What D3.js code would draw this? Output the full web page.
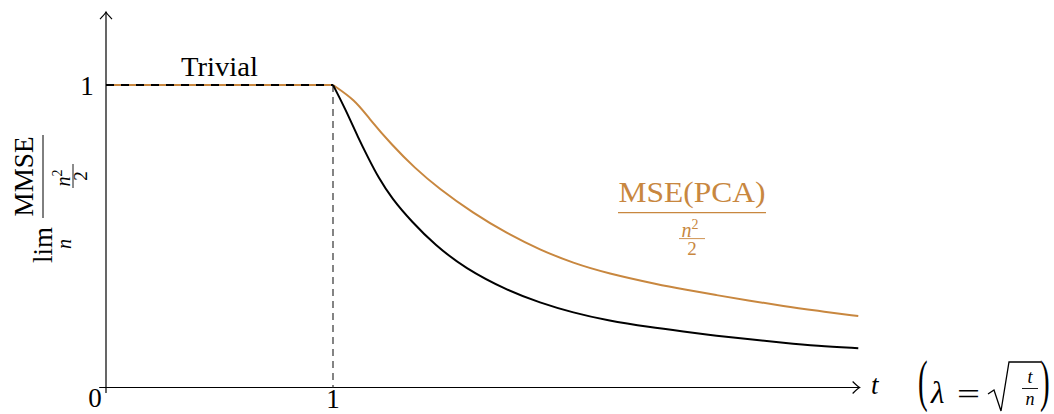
<!DOCTYPE html>
<html><head><meta charset="utf-8">
<script src="https://cdn.jsdelivr.net/npm/d3@7"></script>
<style>body{margin:0;background:#fff} svg{display:block} text{font-family:"Liberation Serif",serif;}</style>
</head><body><svg id="c" width="1054" height="414"></svg>
<script>
// ---- data ----
const trivialT = [0, 1];
const trivialV = [1, 1];
const mmseT = [1.0, 1.053, 1.112, 1.156, 1.200, 1.259, 1.347, 1.449, 1.582, 1.765, 1.912, 2.059, 2.206, 2.397, 2.543, 2.690, 2.837, 2.984, 3.131, 3.314];
const mmseV = [1.0, 0.923, 0.824, 0.758, 0.694, 0.625, 0.548, 0.471, 0.394, 0.322, 0.280, 0.247, 0.222, 0.199, 0.185, 0.171, 0.159, 0.148, 0.138, 0.130];
const pcaT = [1.0, 1.097, 1.156, 1.259, 1.361, 1.464, 1.618, 1.765, 1.912, 2.059, 2.206, 2.441, 2.543, 2.690, 2.837, 2.984, 3.131, 3.314];
const pcaV = [1.0, 0.950, 0.892, 0.802, 0.725, 0.659, 0.576, 0.510, 0.455, 0.411, 0.378, 0.339, 0.325, 0.305, 0.287, 0.269, 0.254, 0.236];
const xTickVals = [1];
const xTickLabels = ["1"];
const yTickVals = [1];
const yTickLabels = ["1"];
const originLabel = "0";
const xAxisRange = [-0.03, 3.32];
const yAxisRange = [-0.018, 1.241];

const ORANGE = "#c8873f";
const svg = d3.select("#c");
const x = d3.scaleLinear().domain([0, 1]).range([106, 333]);
const y = d3.scaleLinear().domain([0, 1]).range([387.5, 85]);

// axes
svg.append("line").attr("x1", x(xAxisRange[0])).attr("x2", x(xAxisRange[1]))
  .attr("y1", y(0)).attr("y2", y(0)).attr("stroke", "#000").attr("stroke-width", 1.2);
svg.append("line").attr("x1", x(0)).attr("x2", x(0))
  .attr("y1", y(yAxisRange[0])).attr("y2", y(yAxisRange[1])).attr("stroke", "#000").attr("stroke-width", 1.2);
// arrow heads
const ax = x(xAxisRange[1]), ay = y(0);
svg.append("path").attr("d", `M${ax-7},${ay-6} Q${ax-2},${ay-1} ${ax},${ay} Q${ax-2},${ay+1} ${ax-7},${ay+6}`)
  .attr("fill", "none").attr("stroke", "#000").attr("stroke-width", 1.2);
const bx = x(0), by = y(yAxisRange[1]);
svg.append("path").attr("d", `M${bx-6},${by+7} Q${bx-1},${by+2} ${bx},${by} Q${bx+1},${by+2} ${bx+6},${by+7}`)
  .attr("fill", "none").attr("stroke", "#000").attr("stroke-width", 1.2);

// vertical dashed guide at t=1
svg.append("line").attr("x1", x(1)).attr("x2", x(1)).attr("y1", y(1)).attr("y2", y(0))
  .attr("stroke", "#333").attr("stroke-width", 1.2).attr("stroke-dasharray", "7,5");

const smooth = d3.line().x(d => x(d[0])).y(d => y(d[1])).curve(d3.curveBasis);
const straight = d3.line().x(d => x(d[0])).y(d => y(d[1]));
const flat = trivialT.map((t, i) => [t, trivialV[i]]);
// PCA: flat part then decay
svg.append("path").datum(flat).attr("d", straight)
  .attr("fill", "none").attr("stroke", ORANGE).attr("stroke-width", 2);
svg.append("path").datum(pcaT.map((t, i) => [t, pcaV[i]])).attr("d", smooth)
  .attr("fill", "none").attr("stroke", ORANGE).attr("stroke-width", 2);
// MMSE
svg.append("path").datum(mmseT.map((t, i) => [t, mmseV[i]])).attr("d", smooth)
  .attr("fill", "none").attr("stroke", "#000").attr("stroke-width", 2);
// Trivial (dashed)
svg.append("path").datum(flat).attr("d", straight)
  .attr("fill", "none").attr("stroke", "#000").attr("stroke-width", 2).attr("stroke-dasharray", "8,7");

// tick labels
svg.selectAll(".xt").data(xTickVals).join("text").attr("x", d => x(d)).attr("y", 408)
  .attr("text-anchor", "middle").attr("font-size", 27).text((d, i) => xTickLabels[i]);
svg.selectAll(".yt").data(yTickVals).join("text").attr("x", 87).attr("y", d => y(d) + 10)
  .attr("text-anchor", "middle").attr("font-size", 27).text((d, i) => yTickLabels[i]);
svg.append("text").attr("x", 95).attr("y", 407).attr("text-anchor", "middle").attr("font-size", 27).text(originLabel);

// Trivial label
svg.append("text").attr("x", 181).attr("y", 76).attr("font-size", 27)
  .attr("textLength", 77).attr("lengthAdjust", "spacingAndGlyphs").text("Trivial");

// y label (rotated)
const gl = svg.append("g").attr("transform", "translate(42,200) rotate(-90)");
gl.append("text").attr("x", -45).attr("y", 10).attr("text-anchor", "middle").attr("font-size", 27).text("lim");
gl.append("text").attr("x", -44).attr("y", 29).attr("text-anchor", "middle").attr("font-size", 20).attr("font-style", "italic").text("n");
gl.append("line").attr("x1", -18).attr("x2", 65).attr("y1", 1).attr("y2", 1).attr("stroke", "#000").attr("stroke-width", 1);
gl.append("text").attr("x", 23.5).attr("y", -9).attr("text-anchor", "middle").attr("font-size", 28)
  .attr("textLength", 80).attr("lengthAdjust", "spacingAndGlyphs").text("MMSE");
const nn = gl.append("text").attr("x", 22).attr("y", 28).attr("text-anchor", "middle").attr("font-size", 20).attr("font-style", "italic");
nn.append("tspan").text("n");
nn.append("tspan").attr("dy", -8).attr("font-size", 14).attr("font-style", "normal").text("2");
gl.append("line").attr("x1", 12).attr("x2", 36).attr("y1", 31).attr("y2", 31).attr("stroke", "#000").attr("stroke-width", 0.9);
gl.append("text").attr("x", 24).attr("y", 45).attr("text-anchor", "middle").attr("font-size", 19).text("2");

// PCA label
const gp = svg.append("g").attr("fill", ORANGE);
gp.append("text").attr("x", 692).attr("y", 202).attr("text-anchor", "middle").attr("font-size", 29)
  .attr("textLength", 147).attr("lengthAdjust", "spacingAndGlyphs").text("MSE(PCA)");
gp.append("line").attr("x1", 618).attr("x2", 766).attr("y1", 212.7).attr("y2", 212.7).attr("stroke", ORANGE).attr("stroke-width", 1.2);
const pn = gp.append("text").attr("x", 690).attr("y", 237).attr("text-anchor", "middle").attr("font-size", 20).attr("font-style", "italic");
pn.append("tspan").text("n");
pn.append("tspan").attr("dy", -8).attr("font-size", 14).attr("font-style", "normal").text("2");
gp.append("line").attr("x1", 679).attr("x2", 705).attr("y1", 238.6).attr("y2", 238.6).attr("stroke", ORANGE).attr("stroke-width", 0.9);
gp.append("text").attr("x", 692).attr("y", 255).attr("text-anchor", "middle").attr("font-size", 19).text("2");

// x-axis variable + lambda note
svg.append("text").attr("x", 871).attr("y", 394).attr("font-size", 27).attr("font-style", "italic").text("t");
svg.append("text").attr("transform", "translate(918,400) scale(0.5,1)").attr("font-size", 58).text("(");
svg.append("text").attr("x", 931).attr("y", 403).attr("font-size", 31).attr("font-style", "italic").text("λ");
svg.append("text").attr("x", 957).attr("y", 404).attr("font-size", 30)
  .attr("textLength", 23).attr("lengthAdjust", "spacingAndGlyphs").text("=");
svg.append("path").attr("d", "M988,394 L994,390 L1001,411 L1009,362 L1041,362")
  .attr("fill", "none").attr("stroke", "#000").attr("stroke-width", 1.3);
svg.append("text").attr("x", 1030).attr("y", 383).attr("text-anchor", "middle").attr("font-size", 18).attr("font-style", "italic").text("t");
svg.append("line").attr("x1", 1022).attr("x2", 1038).attr("y1", 388.5).attr("y2", 388.5).attr("stroke", "#000").attr("stroke-width", 0.9);
svg.append("text").attr("x", 1030).attr("y", 405).attr("text-anchor", "middle").attr("font-size", 18).attr("font-style", "italic").text("n");
svg.append("text").attr("transform", "translate(1040,400) scale(0.5,1)").attr("font-size", 58).text(")");
</script></body></html>
